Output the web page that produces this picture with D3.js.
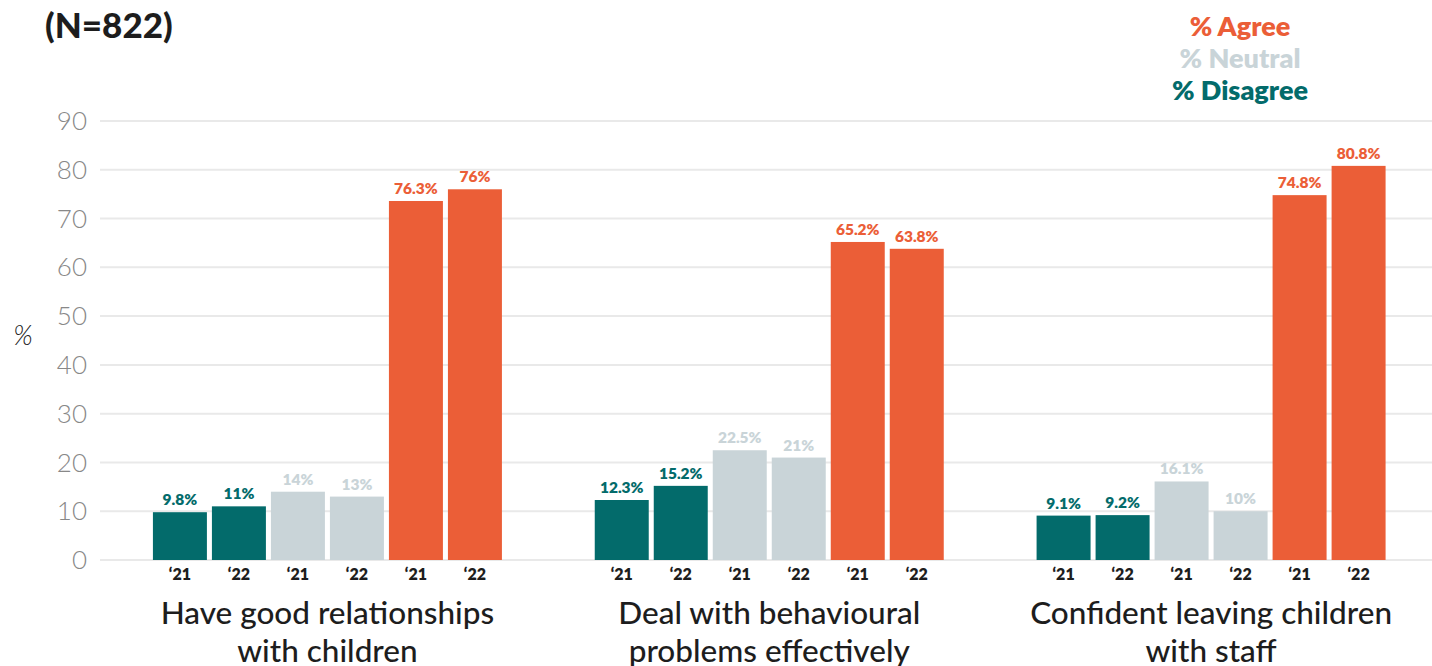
<!DOCTYPE html>
<html><head><meta charset="utf-8">
<script src="https://cdn.jsdelivr.net/npm/d3@7"></script>
<style>body{margin:0;background:#fff}svg{display:block}text{font-family:Lato,"Open Sans",sans-serif}</style>
</head><body><svg id="c" width="1432" height="666"></svg>
<script>
const categories = [["Have good relationships","with children"],["Deal with behavioural","problems effectively"],["Confident leaving children","with staff"]];
const barKeys = ["dis21","dis22","neu21","neu22","agr21","agr22"];
const yearLabels = ["\u201821","\u201822","\u201821","\u201822","\u201821","\u201822"];
const disagree21 = [9.8, 12.3, 9.1];
const disagree22 = [11, 15.2, 9.2];
const neutral21 = [14, 22.5, 16.1];
const neutral22 = [13, 21, 10];
const agree21 = [73.6, 65.2, 74.8];
const agree22 = [76, 63.8, 80.8];
const valueLabels = [
  ["9.8%","11%","14%","13%","76.3%","76%"],
  ["12.3%","15.2%","22.5%","21%","65.2%","63.8%"],
  ["9.1%","9.2%","16.1%","10%","74.8%","80.8%"]
];
const yTicks = [0,10,20,30,40,50,60,70,80,90];
const legendItems = ["% Agree","% Neutral","% Disagree"];

const cTeal="#036b6b", cGrey="#c9d4d8", cOrange="#eb5e37";
const barColors=[cTeal,cTeal,cGrey,cGrey,cOrange,cOrange];
const legendColors=[cOrange,cGrey,cTeal];
const series=[disagree21,disagree22,neutral21,neutral22,agree21,agree22];

const svg=d3.select("#c");
const y=d3.scaleLinear().domain([0,90]).range([560,121]);
const x0=d3.scaleBand().domain(d3.range(categories.length)).range([106.5,1432]);
const x1=d3.scaleBand().domain(barKeys).range([0,349]).paddingInner(0.085).paddingOuter(0);
const groupOffset=(x0.bandwidth()-349)/2;

// gridlines
svg.append("g").selectAll("line").data(yTicks).join("line")
  .attr("x1",100).attr("x2",1432).attr("y1",d=>y(d)).attr("y2",d=>y(d))
  .attr("stroke","#e9e9e9").attr("stroke-width",2);
// y tick labels
svg.append("g").selectAll("text").data(yTicks).join("text")
  .attr("x",87).attr("y",d=>y(d)).attr("dy","0.35em").attr("text-anchor","end")
  .attr("font-size",26).attr("font-weight",300).attr("fill","#888").text(d=>d);
svg.append("text").attr("x",23).attr("y",345).attr("text-anchor","middle")
  .attr("font-size",27).attr("font-style","italic").attr("font-weight",300).attr("fill","#222").text("%");

// title
svg.append("text").attr("x",45).attr("y",38).attr("font-size",35).attr("font-weight",900).attr("fill","#1d1d1d").text("(N=822)");

// legend
svg.append("g").selectAll("text").data(legendItems).join("text")
  .attr("x",1240).attr("y",(d,i)=>36+i*32).attr("text-anchor","middle")
  .attr("font-size",27).attr("font-weight",800).attr("fill",(d,i)=>legendColors[i]).text(d=>d);

const groups=svg.append("g").selectAll("g").data(categories).join("g")
  .attr("transform",(d,i)=>`translate(${x0(i)+groupOffset},0)`);

groups.each(function(cat,gi){
  const g=d3.select(this);
  const rows=barKeys.map((k,j)=>({k,j,v:series[j][gi],lab:valueLabels[gi][j]}));
  g.selectAll("rect").data(rows).join("rect")
    .attr("x",d=>x1(d.k)).attr("width",x1.bandwidth())
    .attr("y",d=>y(d.v)).attr("height",d=>y(0)-y(d.v))
    .attr("fill",d=>barColors[d.j]);
  g.selectAll("text.val").data(rows).join("text").attr("class","val")
    .attr("x",d=>x1(d.k)+x1.bandwidth()/2).attr("y",d=>y(d.v)-7)
    .attr("text-anchor","middle").attr("font-size",15.5).attr("font-weight",800)
    .attr("fill",d=>barColors[d.j]).text(d=>d.lab);
  g.selectAll("text.yr").data(rows).join("text").attr("class","yr")
    .attr("x",d=>x1(d.k)+x1.bandwidth()/2).attr("y",580)
    .attr("text-anchor","middle").attr("font-size",16).attr("font-weight",800)
    .attr("fill","#1d1d1d").text(d=>yearLabels[d.j]);
  g.selectAll("text.cat").data(cat).join("text").attr("class","cat")
    .attr("x",349/2).attr("y",(d,i)=>624+i*38)
    .attr("text-anchor","middle").attr("font-size",31.5).attr("font-weight",500)
    .attr("fill","#1d1d1d").text(d=>d);
});
</script></body></html>
